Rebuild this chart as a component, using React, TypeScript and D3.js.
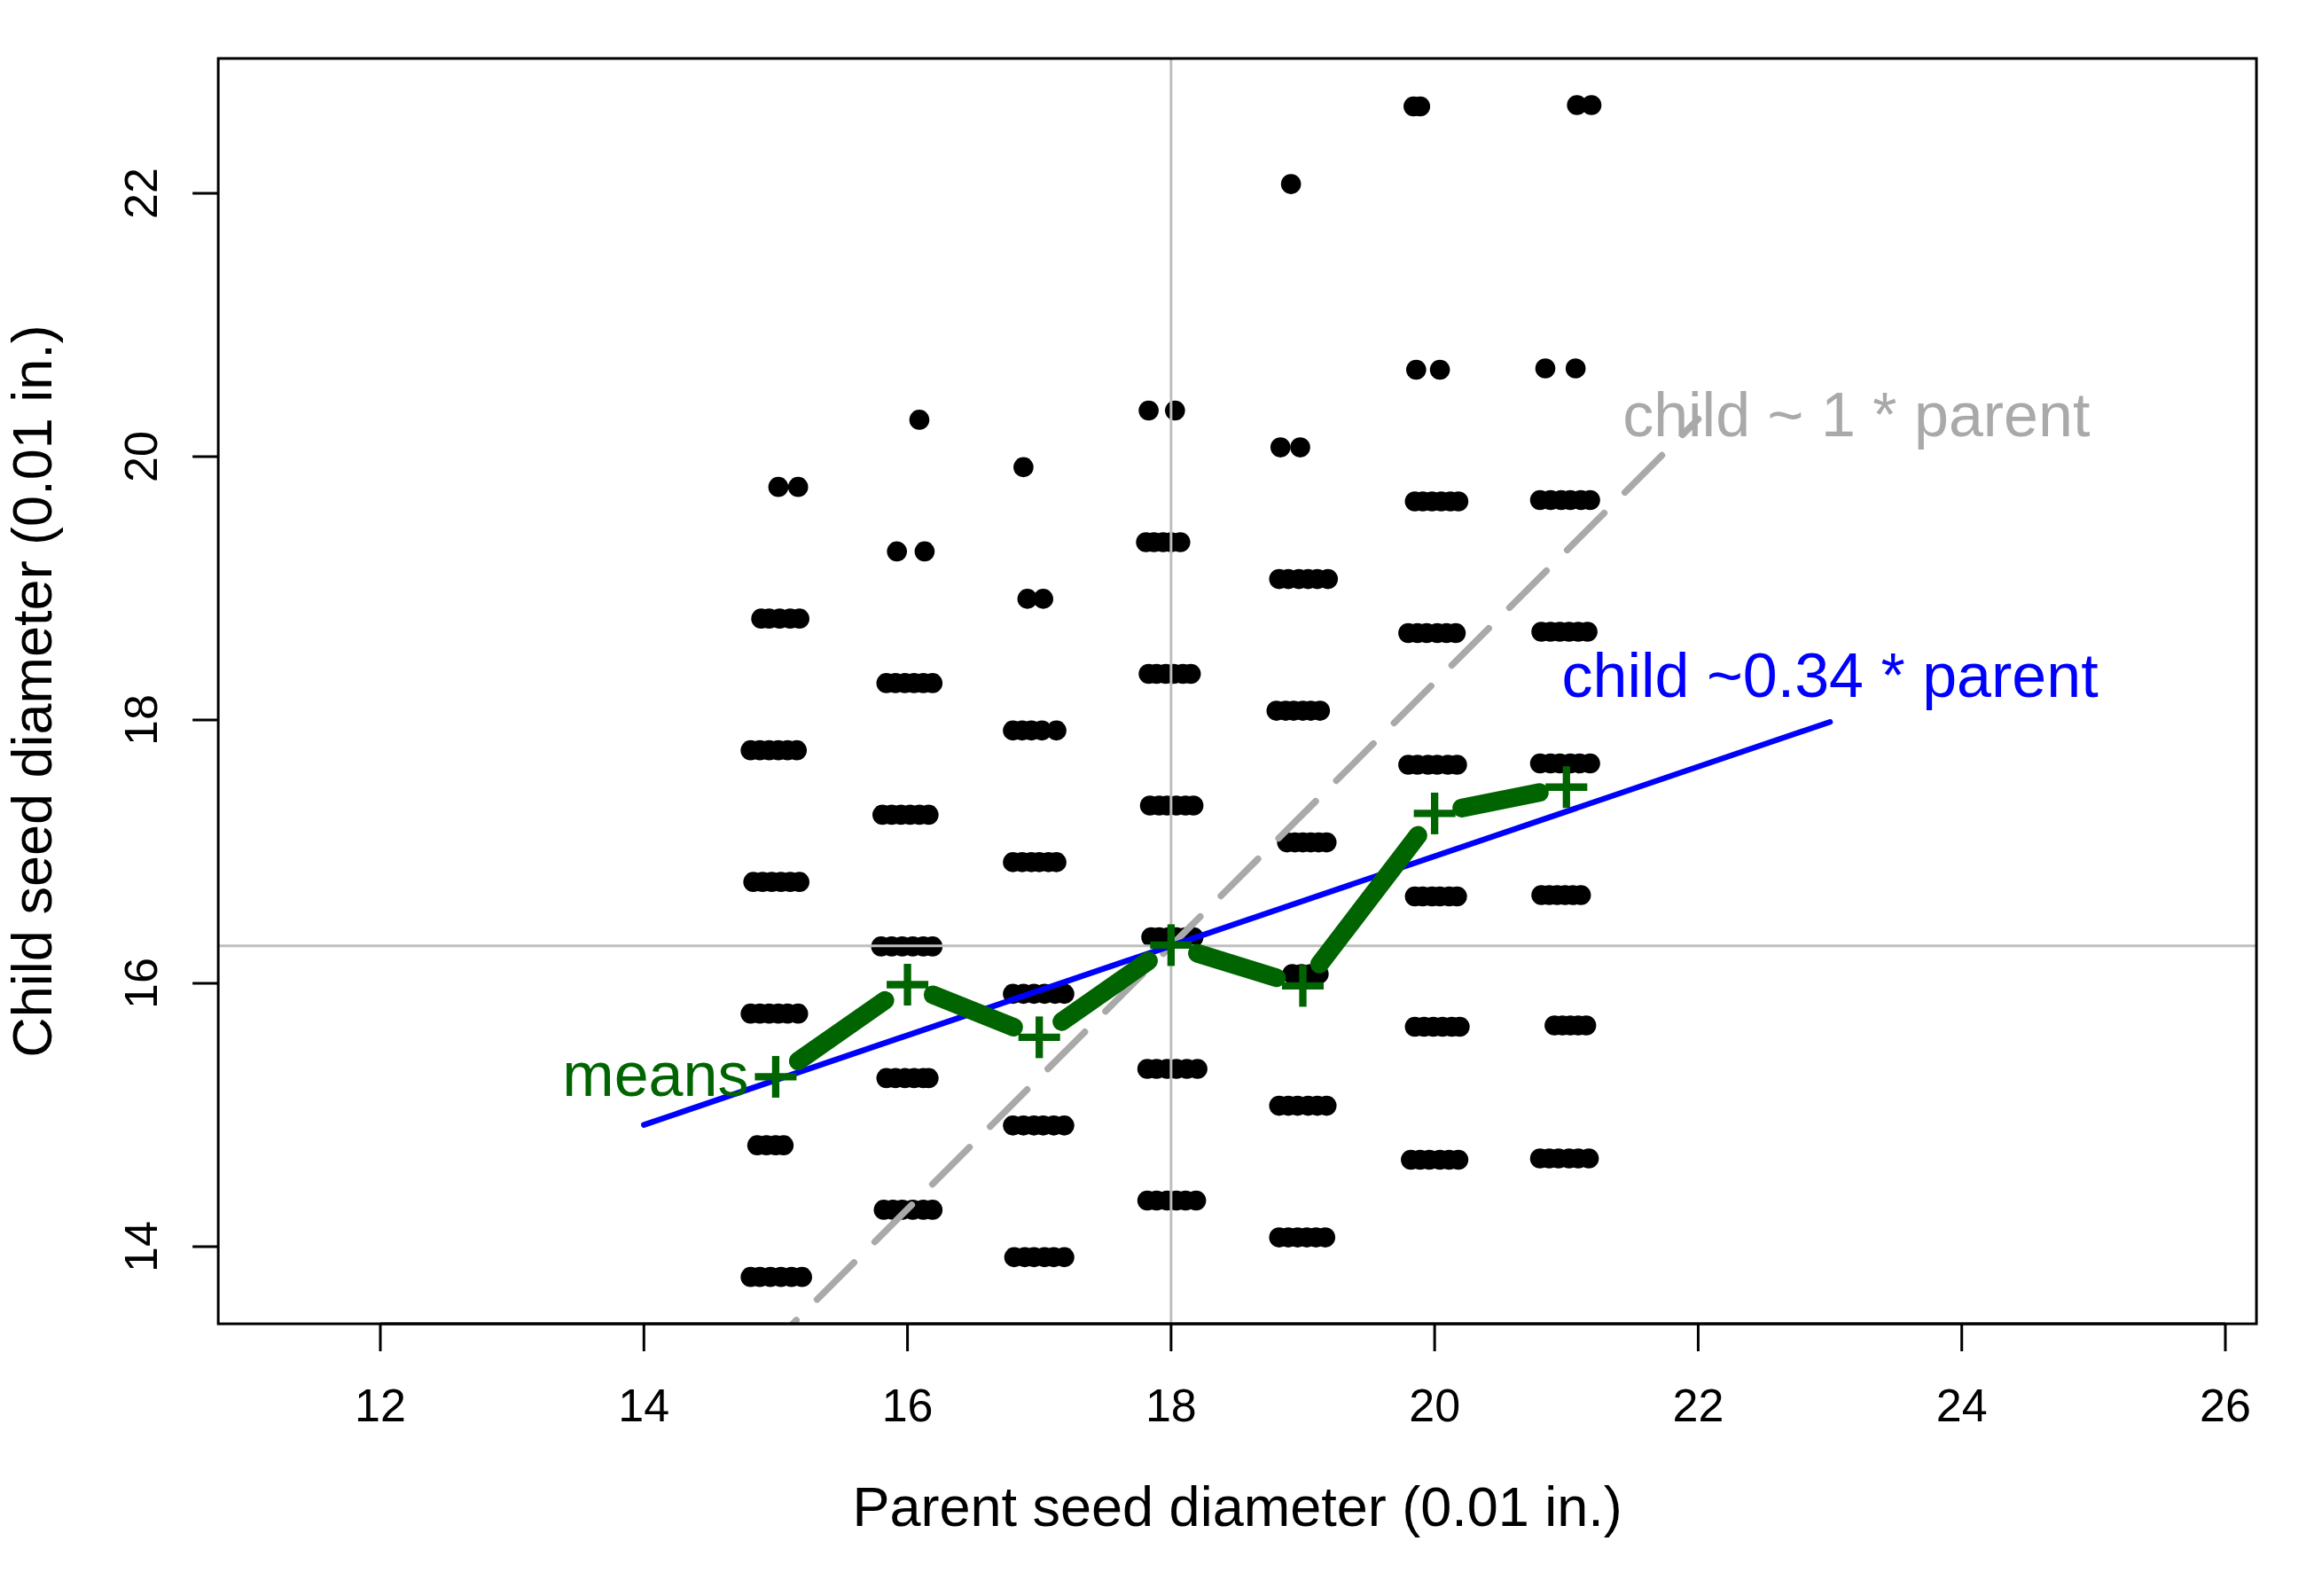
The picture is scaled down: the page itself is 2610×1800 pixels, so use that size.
import React from 'react';
import * as d3 from 'd3';

// ---------- data ----------
const xTicks = [12, 14, 16, 18, 20, 22, 24, 26];
const yTicks = [14, 16, 18, 20, 22];
const xLim = [10.77, 26.236];
const yLim = [13.414, 23.024];

type Row = { child: number; xs: number[] };

const parent15: Row[] = [
  { child: 19.77, xs: [15.02, 15.17] },
  { child: 18.77, xs: [14.89, 14.95, 15.03, 15.11, 15.18] },
  { child: 17.77, xs: [14.81, 14.88, 14.95, 15.02, 15.09, 15.16] },
  { child: 16.77, xs: [14.83, 14.9, 14.97, 15.04, 15.11, 15.18] },
  { child: 15.77, xs: [14.81, 14.88, 14.95, 15.02, 15.09, 15.17] },
  { child: 14.77, xs: [14.86, 14.93, 15.0, 15.06] },
  { child: 13.77, xs: [14.81, 14.88, 14.96, 15.04, 15.12, 15.2] },
];
const parent16: Row[] = [
  { child: 20.28, xs: [16.09] },
  { child: 19.28, xs: [15.92, 16.13] },
  { child: 18.28, xs: [15.84, 15.91, 15.98, 16.05, 16.12, 16.19] },
  { child: 17.28, xs: [15.81, 15.88, 15.95, 16.02, 16.09, 16.16] },
  { child: 16.28, xs: [15.8, 15.88, 15.96, 16.04, 16.12, 16.19] },
  { child: 15.28, xs: [15.84, 15.91, 15.98, 16.05, 16.12, 16.16] },
  { child: 14.28, xs: [15.82, 15.89, 15.96, 16.04, 16.12, 16.19] },
];
const parent17: Row[] = [
  { child: 19.92, xs: [16.88] },
  { child: 18.92, xs: [16.91, 17.03] },
  { child: 17.92, xs: [16.8, 16.87, 16.94, 17.02, 17.13] },
  { child: 16.92, xs: [16.8, 16.87, 16.94, 17.0, 17.07, 17.13] },
  { child: 15.92, xs: [16.8, 16.88, 16.96, 17.04, 17.12, 17.19] },
  { child: 14.92, xs: [16.8, 16.88, 16.96, 17.03, 17.11, 17.19] },
  { child: 13.92, xs: [16.81, 16.89, 16.96, 17.04, 17.11, 17.19] },
];
const parent18: Row[] = [
  { child: 20.35, xs: [17.83, 18.03] },
  { child: 19.35, xs: [17.81, 17.87, 17.94, 18.0, 18.07] },
  { child: 18.35, xs: [17.83, 17.89, 17.96, 18.02, 18.09, 18.15] },
  { child: 17.35, xs: [17.84, 17.91, 17.97, 18.04, 18.11, 18.17] },
  { child: 16.35, xs: [17.85, 17.91, 17.98, 18.04, 18.11, 18.17] },
  { child: 15.35, xs: [17.82, 17.89, 17.97, 18.04, 18.12, 18.2] },
  { child: 14.35, xs: [17.82, 17.89, 17.97, 18.04, 18.11, 18.19] },
];
const parent19: Row[] = [
  { child: 22.07, xs: [18.91] },
  { child: 20.07, xs: [18.83, 18.98] },
  { child: 19.07, xs: [18.82, 18.89, 18.97, 19.04, 19.11, 19.19] },
  { child: 18.07, xs: [18.8, 18.87, 18.93, 19.0, 19.06, 19.13] },
  { child: 17.07, xs: [18.88, 18.94, 19.0, 19.06, 19.12, 19.18] },
  { child: 16.07, xs: [18.92, 18.99, 19.06, 19.12] },
  { child: 15.07, xs: [18.82, 18.89, 18.96, 19.04, 19.11, 19.18] },
  { child: 14.07, xs: [18.82, 18.89, 18.96, 19.03, 19.1, 19.17] },
];
const parent20: Row[] = [
  { child: 22.66, xs: [19.84, 19.89] },
  { child: 20.66, xs: [19.86, 20.04] },
  { child: 19.66, xs: [19.85, 19.91, 19.98, 20.05, 20.12, 20.18] },
  { child: 18.66, xs: [19.8, 19.87, 19.94, 20.02, 20.09, 20.16] },
  { child: 17.66, xs: [19.8, 19.87, 19.95, 20.02, 20.1, 20.17] },
  { child: 16.66, xs: [19.85, 19.91, 19.98, 20.04, 20.11, 20.17] },
  { child: 15.67, xs: [19.85, 19.92, 19.99, 20.06, 20.13, 20.19] },
  { child: 14.66, xs: [19.82, 19.89, 19.96, 20.04, 20.11, 20.18] },
];
const parent21: Row[] = [
  { child: 22.67, xs: [21.08, 21.19] },
  { child: 20.67, xs: [20.84, 21.07] },
  { child: 19.67, xs: [20.8, 20.88, 20.96, 21.03, 21.11, 21.18] },
  { child: 18.67, xs: [20.81, 20.88, 20.95, 21.02, 21.09, 21.16] },
  { child: 17.67, xs: [20.8, 20.88, 20.95, 21.03, 21.1, 21.18] },
  { child: 16.67, xs: [20.81, 20.87, 20.93, 20.99, 21.05, 21.11] },
  { child: 15.68, xs: [20.91, 20.97, 21.03, 21.09, 21.15] },
  { child: 14.67, xs: [20.8, 20.87, 20.94, 21.02, 21.09, 21.17] },
];

const meanParent = [15, 16, 17, 18, 19, 20, 21];
const meanChild = [15.29, 15.99, 15.59, 16.29, 15.98, 17.29, 17.49];

const grandMeanParent = 18;
const grandMeanChild = 16.285;
const identityRange = [14, 22];
const identitySlope = 1;
const fitRange = [14, 23];
const fitSlope = 0.34;

const labelTexts = ['child ~ 1 * parent', 'child ~0.34 * parent', 'means'];
const labelX = [23.2, 23.0, 14.795];
const labelY = [20.155, 18.172, 15.145];

// ---------- drawing ----------
const FONT = "'Liberation Sans', Arial, Helvetica, sans-serif";
const GREEN = '#006400';

export default function App() {
  const W = 2610;
  const H = 1800;
  const x = d3.scaleLinear().domain([12, 26]).range([429, 2510]);
  const y = d3.scaleLinear().domain([14, 22]).range([1406, 218]);

  const left = x(xLim[0]);
  const right = x(xLim[1]);
  const top = y(yLim[1]);
  const bottom = y(yLim[0]);

  const allRows = [parent15, parent16, parent17, parent18, parent19, parent20, parent21];
  const points: { px: number; py: number }[] = [];
  allRows.forEach((rows) =>
    rows.forEach((r) => r.xs.forEach((xv) => points.push({ px: x(xv), py: y(r.child) })))
  );

  const line = d3.line<[number, number]>().x((d) => d[0]).y((d) => d[1]);
  const idPts: [number, number][] = identityRange.map((xv) => [
    x(xv),
    y(grandMeanChild + identitySlope * (xv - grandMeanParent)),
  ]);
  const fitPts: [number, number][] = fitRange.map((xv) => [
    x(xv),
    y(grandMeanChild + fitSlope * (xv - grandMeanParent)),
  ]);

  const meanPx = meanParent.map((p, i) => [x(p), y(meanChild[i])] as [number, number]);
  const gap = 31;
  const segs = meanPx.slice(0, -1).map((a, i) => {
    const b = meanPx[i + 1];
    const dx = b[0] - a[0];
    const dy = b[1] - a[1];
    const len = Math.hypot(dx, dy);
    const ux = dx / len;
    const uy = dy / len;
    return {
      x1: a[0] + ux * gap,
      y1: a[1] + uy * gap,
      x2: b[0] - ux * gap,
      y2: b[1] - uy * gap,
    };
  });

  const labelColors = ['#A9A9A9', '#0000FF', GREEN];
  const labelAnchors = ['middle', 'middle', 'end'];

  return (
    <svg
      width={W}
      height={H}
      viewBox={`0 0 ${W} ${H}`}
      style={{ position: 'absolute', left: 0, top: 0, background: '#fff' }}
      fontFamily={FONT}
    >
      <rect x={0} y={0} width={W} height={H} fill="#fff" />
      <defs>
        <clipPath id="plotClip">
          <rect x={left} y={top} width={right - left} height={bottom - top} />
        </clipPath>
      </defs>

      <g clipPath="url(#plotClip)">
        {points.map((p, i) => (
          <circle key={i} cx={p.px} cy={p.py} r={11.3} fill="#000" />
        ))}
        <line x1={left} x2={right} y1={y(grandMeanChild)} y2={y(grandMeanChild)} stroke="#BEBEBE" strokeWidth={3} />
        <line x1={x(grandMeanParent)} x2={x(grandMeanParent)} y1={top} y2={bottom} stroke="#BEBEBE" strokeWidth={3} />
        <path
          d={line(idPts) || ''}
          fill="none"
          stroke="#A9A9A9"
          strokeWidth={7.5}
          strokeDasharray="59 33"
          strokeLinecap="round"
        />
        <path d={line(fitPts) || ''} fill="none" stroke="#0000FF" strokeWidth={6.5} strokeLinecap="round" />
        {segs.map((s, i) => (
          <line key={i} x1={s.x1} y1={s.y1} x2={s.x2} y2={s.y2} stroke={GREEN} strokeWidth={21} strokeLinecap="round" />
        ))}
        {meanPx.map((p, i) => (
          <g key={i} stroke={GREEN} strokeWidth={8.3}>
            <line x1={p[0] - 23.5} x2={p[0] + 23.5} y1={p[1]} y2={p[1]} />
            <line x1={p[0]} x2={p[0]} y1={p[1] - 23.5} y2={p[1] + 23.5} />
          </g>
        ))}
      </g>

      {labelTexts.map((t, i) => (
        <text
          key={t}
          x={x(labelX[i])}
          y={y(labelY[i])}
          fill={labelColors[i]}
          fontSize={70}
          textAnchor={labelAnchors[i] as any}
        >
          {t}
        </text>
      ))}

      {/* box */}
      <rect x={left} y={top} width={right - left} height={bottom - top} fill="none" stroke="#000" strokeWidth={3} />

      {/* x axis */}
      <line x1={x(xTicks[0])} x2={x(xTicks[xTicks.length - 1])} y1={bottom} y2={bottom} stroke="#000" strokeWidth={3} />
      {xTicks.map((t) => (
        <g key={t}>
          <line x1={x(t)} x2={x(t)} y1={bottom} y2={bottom + 31} stroke="#000" strokeWidth={3} />
          <text x={x(t)} y={1603} fontSize={52} textAnchor="middle" fill="#000">
            {t}
          </text>
        </g>
      ))}

      {/* y axis */}
      {yTicks.map((t) => (
        <g key={t}>
          <line x1={left - 29} x2={left} y1={y(t)} y2={y(t)} stroke="#000" strokeWidth={3} />
          <text transform={`translate(177, ${y(t)}) rotate(-90)`} fontSize={52} textAnchor="middle" fill="#000">
            {t}
          </text>
        </g>
      ))}

      <text x={(left + right) / 2} y={1721} fontSize={63} textAnchor="middle" fill="#000">
        Parent seed diameter (0.01 in.)
      </text>
      <text
        transform={`translate(58, ${(top + bottom) / 2}) rotate(-90)`}
        fontSize={63}
        textAnchor="middle"
        fill="#000"
      >
        Child seed diameter (0.01 in.)
      </text>
    </svg>
  );
}
